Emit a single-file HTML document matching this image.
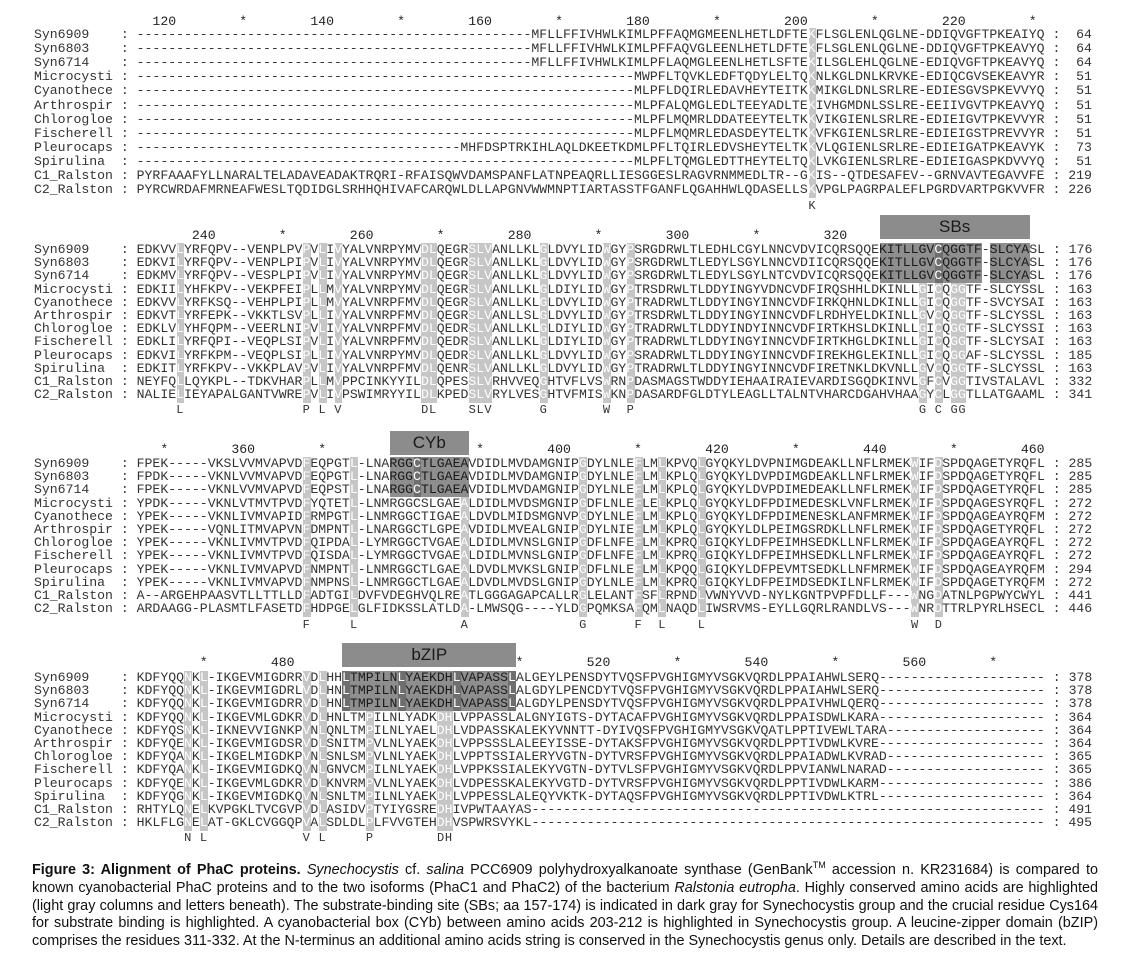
<!DOCTYPE html>
<html><head><meta charset="utf-8">
<style>
html,body{margin:0;padding:0;background:#fff;}
#root{position:relative;width:1127px;height:962px;overflow:hidden;background:#fff;}
.row{position:absolute;left:34px;white-space:pre;font-family:"Liberation Mono",monospace;font-size:13.17px;line-height:16px;height:16px;color:#333;}
.hl{position:absolute;background:#c6c6c6;}
.dk{position:absolute;background:#8e8e8e;}
.dk2{position:absolute;background:#6e6e6e;}
.lab{position:absolute;background:#8c8c8c;color:#1a1a1a;font-family:"Liberation Sans",sans-serif;font-size:17px;text-align:center;}
.w{color:#fff;}
#caption{position:absolute;left:32px;top:862px;width:1066px;font-family:"Liberation Sans",sans-serif;font-size:14.4px;line-height:17.8px;color:#111;}
#caption .ln{display:block;text-align:justify;text-align-last:justify;white-space:nowrap;height:17.8px;}
#caption .ln.last{text-align-last:left;}
</style></head>
<body>
<div id="root">
<div id="caption"><span class="ln" style="white-space:normal"><b>Figure 3: Alignment of PhaC proteins.</b> <i>Synechocystis</i> cf. <i>salina</i> PCC6909 polyhydroxyalkanoate synthase (GenBank<sup style="font-size:9px;line-height:0">TM</sup> accession n. KR231684) is compared to</span><span class="ln" style="white-space:normal">known cyanobacterial PhaC proteins and to the two isoforms (PhaC1 and PhaC2) of the bacterium <i>Ralstonia eutropha</i>. Highly conserved amino acids are highlighted</span><span class="ln" style="white-space:normal">(light gray columns and letters beneath). The substrate-binding site (SBs; aa 157-174) is indicated in dark gray for Synechocystis group and the crucial residue Cys164</span><span class="ln" style="white-space:normal">for substrate binding is highlighted. A cyanobacterial box (CYb) between amino acids 203-212 is highlighted in Synechocystis group. A leucine-zipper domain (bZIP)</span><span class="ln last" style="white-space:normal">comprises the residues 311-332. At the N-terminus an additional amino acids string is conserved in the Synechocystis genus only. Details are described in the text.</span></div>
</div>
<script>
const names = ["Syn6909","Syn6803","Syn6714","Microcysti","Cyanothece","Arthrospir","Chlorogloe","Fischerell","Pleurocaps","Spirulina","C1_Ralston","C2_Ralston"];
const D = n => "-".repeat(n);
const seq1 = [
D(50)+"MFLLFFIVHWLKIMLPFFAQMGMEENLHETLDFTEKFLSGLENLQGLNE-DDIQVGFTPKEAIYQ",
D(50)+"MFLLFFIVHWLKIMLPFFAQVGLEENLHETLDFTEKFLSGLENLQGLNE-DDIQVGFTPKEAVYQ",
D(50)+"MFLLFFIVHWLKIMLPFLAQMGLEENLHETLSFTEKILSGLEHLQGLNE-EDIQVGFTPKEAVYQ",
D(63)+"MWPFLTQVKLEDFTQDYLELTQKNLKGLDNLKRVKE-EDIQCGVSEKEAVYR",
D(63)+"MLPFLDQIRLEDAVHEYTEITKKMIKGLDNLSRLRE-EDIESGVSPKEVVYQ",
D(63)+"MLPFALQMGLEDLTEEYADLTEKIVHGMDNLSSLRE-EEIIVGVTPKEAVYQ",
D(63)+"MLPFLMQMRLDDATEEYTELTKKVIKGIENLSRLRE-EDIEIGVTPKEVVYR",
D(63)+"MLPFLMQMRLEDASDEYTELTKKVFKGIENLSRLRE-EDIEIGSTPREVVYR",
D(41)+"MHFDSPTRKIHLAQLDKEETKDMLPFLTQIRLEDVSHEYTELTKKVLQGIENLSRLRE-EDIEIGATPKEAVYK",
D(63)+"MLPFLTQMGLEDTTHEYTELTQKLVKGIENLSRLRE-EDIEIGASPKDVVYQ",
"PYRFAAAFYLLNARALTELADAVEADAKTRQRI-RFAISQWVDAMSPANFLATNPEAQRLLIESGGESLRAGVRNMMEDLTR--GKIS--QTDESAFEV--GRNVAVTEGAVVFE",
"PYRCWRDAFMRNEAFWESLTQDIDGLSRHHQHIVAFCARQWLDLLAPGNVWWMNPTIARTASSTFGANFLQGAHHWLQDASELLSKVPGLPAGRPALEFLPGRDVARTPGKVVFR"];
const seq2 = [
"EDKVVLYRFQPV--VENPLPVPVLIVYALVNRPYMVDLQEGRSLVANLLKLGLDVYLIDWGYPSRGDRWLTLEDHLCGYLNNCVDVICQRSQQEKITLLGVCQGGTF-SLCYASL",
"EDKVILYRFQPV--VENPLPIPVLIVYALVNRPYMVDLQEGRSLVANLLKLGLDVYLIDWGYPSRGDRWLTLEDYLSGYLNNCVDIICQRSQQEKITLLGVCQGGTF-SLCYASL",
"EDKMVLYRFQPV--VESPLPIPVLIVYALVNRPYMVDLQEGRSLVANLLKLGLDVYLIDWGYPSRGDRWLTLEDYLSGYLNTCVDVICQRSQQEKITLLGVCQGGTF-SLCYASL",
"EDKIILYHFKPV--VEKPFEIPLLMVYALVNRPYMVDLQEGRSLVANLLKLGLDIYLIDWGYPTRSDRWLTLDDYINGYVDNCVDFIRQSHHLDKINLLGICQGGTF-SLCYSSL",
"EDKVVLYRFKSQ--VEHPLPIPLLMVYALVNRPFMVDLQEGRSLVANLLKLGLDVYLIDWGYPTRADRWLTLDDYINGYINNCVDFIRKQHNLDKINLLGICQGGTF-SVCYSAI",
"EDKVTLYRFEPK--VKKTLSVPLLIVYALVNRPFMVDLQEGRSLVANLLSLGLDVYLIDWGYPTRSDRWLTLDDYINGYINNCVDFLRDHYELDKINLLGVCQGGTF-SLCYSSL",
"EDKLVLYHFQPM--VEERLNIPVLIVYALVNRPFMVDLQEDRSLVANLLKLGLDIYLIDWGYPTRADRWLTLDDYINDYINNCVDFIRTKHSLDKINLLGICQGGTF-SLCYSSI",
"EDKLILYRFQPI--VEQPLSIPVLIVYALVNRPFMVDLQEDRSLVANLLKLGLDIYLIDWGYPTRADRWLTLDDYINGYINNCVDFIRTKHGLDKINLLGICQGGTF-SLCYSAI",
"EDKVILYRFKPM--VEQPLSIPLLIVYALVNRPYMVDLQEDRSLVANLLKLGLDVYLIDWGYPSRADRWLTLDDYINGYINNCVDFIREKHGLEKINLLGICQGGAF-SLCYSSL",
"EDKITLYRFKPV--VKKPLAVPVLIVYALVNRPFMVDLQENRSLVANLLKLGLDVYLIDWGYPTRADRWLTLDDYINGYINNCVDFIRETNKLDKVNLLGVCQGGTF-SLCYSSL",
"NEYFQLLQYKPL--TDKVHARPLLMVPPCINKYYILDLQPESSLVRHVVEQGHTVFLVSWRNPDASMAGSTWDDYIEHAAIRAIEVARDISGQDKINVLGFCVGGTIVSTALAVL",
"NALIELIEYAPALGANTVWREPVLIVPSWIMRYYILDLKPEDSLVRYLVESGHTVFMISWKNPDASARDFGLDTYLEAGLLTALNTVHARCDGAHVHAAGYCLGGTLLATGAAML"];
const seq3 = [
"FPEK-----VKSLVVMVAPVDFEQPGTL-LNARGGCTLGAEAVDIDLMVDAMGNIPGDYLNLEFLMLKPVQLGYQKYLDVPNIMGDEAKLLNFLRMEKWIFDSPDQAGETYRQFL",
"FPDK-----VKNLVVMVAPVDFEQPGTL-LNARGGCTLGAEAVDIDLMVDAMGNIPGDYLNLEFLMLKPLQLGYQKYLDVPDIMGDEAKLLNFLRMEKWIFDSPDQAGETYRQFL",
"FPEK-----VKNLVVMVAPVDFEQPSTL-LNARGGCTLGAEAVDIDLMVDAMGNIPGDYLNLEFLMLKPLQLGYQKYLDVPDIMEDEAKLLNFLRMEKWIFDSPDQAGETYRQFL",
"YPDK-----VKNLVTMVTPVDFYQTETL-LNMRGGCSLGAEALDIDLMVDSMGNIPGDFLNLEFLELKPLQLGYQKYLDFPDIMEDESKLVNFLRMEKWIFDSPDQAGESYRQFL",
"YPEK-----VKNLIVMVAPIDFRMPGTL-LNMRGGCTIGAEALDVDLMIDSMGNVPGDYLNLEFLMLKPLQLGYQKYLDFPDIMENESKLANFMRMEKWIFDSPDQAGEAYRQFM",
"YPEK-----VQNLITMVAPVNFDMPNTL-LNARGGCTLGPEAVDIDLMVEALGNIPGDYLNIEFLMLKPLQLGYQKYLDLPEIMGSRDKLLNFLRMEKWIFDSPDQAGETYRQFL",
"YPEK-----VKNLIVMVTPVDFQIPDAL-LYMRGGCTVGAEALDIDLMVNSLGNIPGDFLNFEFLMLKPRQLGIQKYLDFPEIMHSEDKLLNFLRMEKWIFDSPDQAGEAYRQFL",
"YPEK-----VKNLIVMVTPVDFQISDAL-LYMRGGCTVGAEALDIDLMVNSLGNIPGDFLNFEFLMLKPRQLGIQKYLDFPEIMHSEDKLLNFLRMEKWIFDSPDQAGEAYRQFL",
"YPEK-----VKNLIVMVAPVDFNMPNTL-LNMRGGCTLGAEALDVDLMVKSLGNIPGDFLNLEFLMLKPQQLGIQKYLDFPEVMTSEDKLLNFMRMEKWIFDSPDQAGEAYRQFM",
"YPEK-----VKNLIVMVAPVDFNMPNSL-LNMRGGCTLGAEALDVDLMVDSLGNIPGDYLNLEFLMLKPRQLGIQKYLDFPEIMDSEDKILNFLRMEKWIFDSPDQAGETYRQFM",
"A--ARGEHPAASVTLLTTLLDFADTGILDVFVDEGHVQLREATLGGGAGAPCALLRGLELANTFSFLRPNDLVWNYVVD-NYLKGNTPVPFDLLF---WNGDATNLPGPWYCWYL",
"ARDAAGG-PLASMTLFASETDFHDPGELGLFIDKSSLATLDA-LMWSQG----YLDGPQMKSAFQMLNAQDLIWSRVMS-EYLLGQRLRANDLVS---WNRDTTRLPYRLHSECL"];
const seq4 = [
"KDFYQQNKL-IKGEVMIGDRRVDLHHLTMPILNLYAEKDHLVAPASSLALGEYLPENSDYTVQSFPVGHIGMYVSGKVQRDLPPAIAHWLSERQ",
"KDFYQQNKL-IKGEVMIGDRLVDLHNLTMPILNLYAEKDHLVAPASSLALGDYLPENCDYTVQSFPVGHIGMYVSGKVQRDLPPAIAHWLSERQ",
"KDFYQQNKL-IKGEVMIGDRRVDLHNLTMPILNLYAEKDHLVAPASSLALGDYLPENSDYTVQSFPVGHIGMYVSGKVQRDLPPAIVHWLQERQ",
"KDFYQQNKL-IKGEVMLGDKRVDLHNLTMPILNLYADKDHLVPPASSLALGNYIGTS-DYTACAFPVGHIGMYVSGKVQRDLPPAISDWLKARA",
"KDFYQSNKL-IKNEVVIGNKPVNLQNLTMPILNLYAELDHLVDPASSKALEKYVNNTT-DYIVQSFPVGHIGMYVSGKVQATLPPTIVEWLTARA",
"KDFYQENKL-IKGEVMIGDSRVDLSNITMPVLNLYAEKDHLVPPSSSLALEEYISSE-DYTAKSFPVGHIGMYVSGKVQRDLPPTIVDWLKVRE",
"KDFYQANKL-IKGELMIGDKPVNLSNLSMPVLNLYAEKDHLVPPTSSIALERYVGTN-DYTVRSFPVGHIGMYVSGKVQRDLPPAIADWLKVRAD",
"KDFYQANKL-IKGEVMIGDKQVNLGNVCMPILNLYAEKDHLVPPKSSIALEKYVGTN-DYTVLSFPVGHIGMYVSGKVQRDLPPVIANWLNARAD",
"KDFYQENKL-IKGEVMLGDKRVDLKNVRMPVLNLYAEKDHLVDPESSKALEKYVGTD-DYTVRSFPVGHIGMYVSGKVQRDLPPTIVDWLKARM",
"KDFYQGNKL-IKGEVMIGDKQVNLSNLTMPILNLYAEKDHLVPPESSLALEQYVKTK-DYTAQSFPVGHIGMYVSGKVQRDLPPTIVDWLKTRL",
"RHTYLQNELKVPGKLTVCGVPVDLASIDVPTYIYGSREDHIVPWTAAYAS",
"HKLFLGNELAT-GKLCVGGQPVALSDLDLPLFVVGTEHDHVSPWRSVYKL"];
const ends1 = [64,64,64,51,51,51,51,51,73,51,219,226];
const ends2 = [176,176,176,163,163,163,163,163,185,163,332,341];
const ends3 = [285,285,285,272,272,272,272,272,294,272,441,446];
const ends4 = [378,378,378,364,364,364,365,365,386,364,491,495];
const light1 = [85];
const light2 = [5,21,23,25,36,37,42,43,44,51,59,62,99,101,103,104];
const light3 = [21,27,41,56,63,66,71,98,101];
const light4 = [6,8,21,23,29,38,39];
const cons1 = "K";
const cons2 = "LPLVDLSLVGWPGCGG";
const cons3 = "FLAGFLLWD";
const cons4 = "NLVLPDH";
const blocks = [
 {seq:seq1,ends:ends1,light:light1,cons:cons1,start:117,ruler:22,row0:35,dy:14.1,consY:206,
  dark:[],dark2:[],label:null},
 {seq:seq2,ends:ends2,light:light2,cons:cons2,start:232,ruler:236,row0:250,dy:13.2,consY:410,
  dark:[[94,106],[108,112]],dark2:[101],label:{t:"SBs",c0:94,c1:113,y0:215,y1:239}},
 {seq:seq3,ends:ends3,light:light3,cons:cons3,start:347,ruler:450,row0:464,dy:13.2,consY:625,
  dark:[[32,41]],dark2:[35],label:{t:"CYb",c0:32,c1:42,y0:431,y1:455}},
 {seq:seq4,ends:ends4,light:light4,cons:cons4,start:462,ruler:663,row0:678,dy:13.2,consY:838,
  dark:[[26,47]],dark2:[26,33,40,47],label:{t:"bZIP",c0:26,c1:48,y0:643,y1:667}}
];
const root = document.getElementById('root');
const CW = 7.9, X0 = 137, NCOL = 115;
function cx(c){ return X0 + c*CW; }
blocks.forEach((b, bi) => {
  const top = b.row0 - 7, bot = b.row0 + 11*b.dy + 8;
  b.light.forEach(c => {
    const d = document.createElement('div');
    d.className = 'hl';
    
    
    d.style.left = cx(c)+'px'; d.style.width = CW+'px';
    d.style.top = top+'px'; d.style.height = (bot-top)+'px';
    root.appendChild(d);
  });
  b.dark.forEach(r => {
    const d = document.createElement('div');
    d.className = 'dk';
    
    
    d.style.left = cx(r[0])+'px'; d.style.width = ((r[1]-r[0]+1)*CW)+'px';
    d.style.top = (b.row0-7)+'px'; d.style.height = (2*b.dy+14)+'px';
    root.appendChild(d);
  });
  b.dark2.forEach(c => {
    const d = document.createElement('div');
    d.className = 'dk2';
    
    
    d.style.left = cx(c)+'px'; d.style.width = CW+'px';
    d.style.top = (b.row0-7)+'px'; d.style.height = (2*b.dy+14)+'px';
    root.appendChild(d);
  });
  let rarr = new Array(NCOL).fill(" ");
  for (let c = 0; c < NCOL; c++) {
    const n = b.start + c;
    if (n % 10 === 0) {
      if (n % 20 === 0) { const s = String(n); if (c>0) rarr[c-1]=s[0]; rarr[c]=s[1]; if (c+1<NCOL) rarr[c+1]=s[2]; }
      else rarr[c] = "*";
    }
  }
  const ru = document.createElement('div');
  ru.className = 'row';
  
  
  ru.style.top = (b.ruler-8)+'px'; ru.style.color = '#222';
  ru.textContent = "             " + rarr.join("").replace(/\s+$/,"");
  root.appendChild(ru);
  if (b.label) {
    const l = document.createElement('div');
    l.className = 'lab';
    
    
    l.style.left = cx(b.label.c0)+'px'; l.style.width = ((b.label.c1-b.label.c0)*CW)+'px';
    l.style.top = b.label.y0+'px'; l.style.height = (b.label.y1-b.label.y0)+'px';
    l.style.lineHeight = (b.label.y1-b.label.y0)+'px';
    l.textContent = b.label.t;
    root.appendChild(l);
  }
  const darkSet = new Set();
  b.dark.forEach(r => { for (let c=r[0]; c<=r[1]; c++) darkSet.add(c); });
  const dark2Set = new Set(b.dark2);
  const lightSet = new Set(b.light);
  b.seq.forEach((s, ri) => {
    s = s.padEnd(NCOL, "-").slice(0, NCOL);
    const isSyn = ri < 3;
    let html = names[ri].padEnd(11, " ") + ": ";
    for (let c = 0; c < NCOL; c++) {
      const ch = s[c];
      const inDark = isSyn && darkSet.has(c);
      if (isSyn && dark2Set.has(c)) html += '<span class="w">'+ch+'</span>';
      else if (!inDark && lightSet.has(c)) html += '<span class="w">'+ch+'</span>';
      else if (inDark) html += '<span style="color:#1a1a1a">'+ch+'</span>';
      else html += ch;
    }
    html += " : " + String(b.ends[ri]).padStart(3, " ");
    const r = document.createElement('div');
    r.className = 'row';
    
    
    r.style.top = (b.row0 + ri*b.dy - 8)+'px';
    r.innerHTML = html;
    root.appendChild(r);
  });
  let carr = new Array(NCOL).fill(" ");
  b.light.forEach((c, i) => { carr[c] = b.cons[i] || " "; });
  const cr = document.createElement('div');
  cr.className = 'row';
  
  
  cr.style.top = (b.consY-8)+'px'; cr.style.fontSize = '12px'; cr.style.letterSpacing = '0.7px';
  cr.textContent = "             " + carr.join("").replace(/\s+$/,"");
  root.appendChild(cr);
});
</script>
</body></html>
